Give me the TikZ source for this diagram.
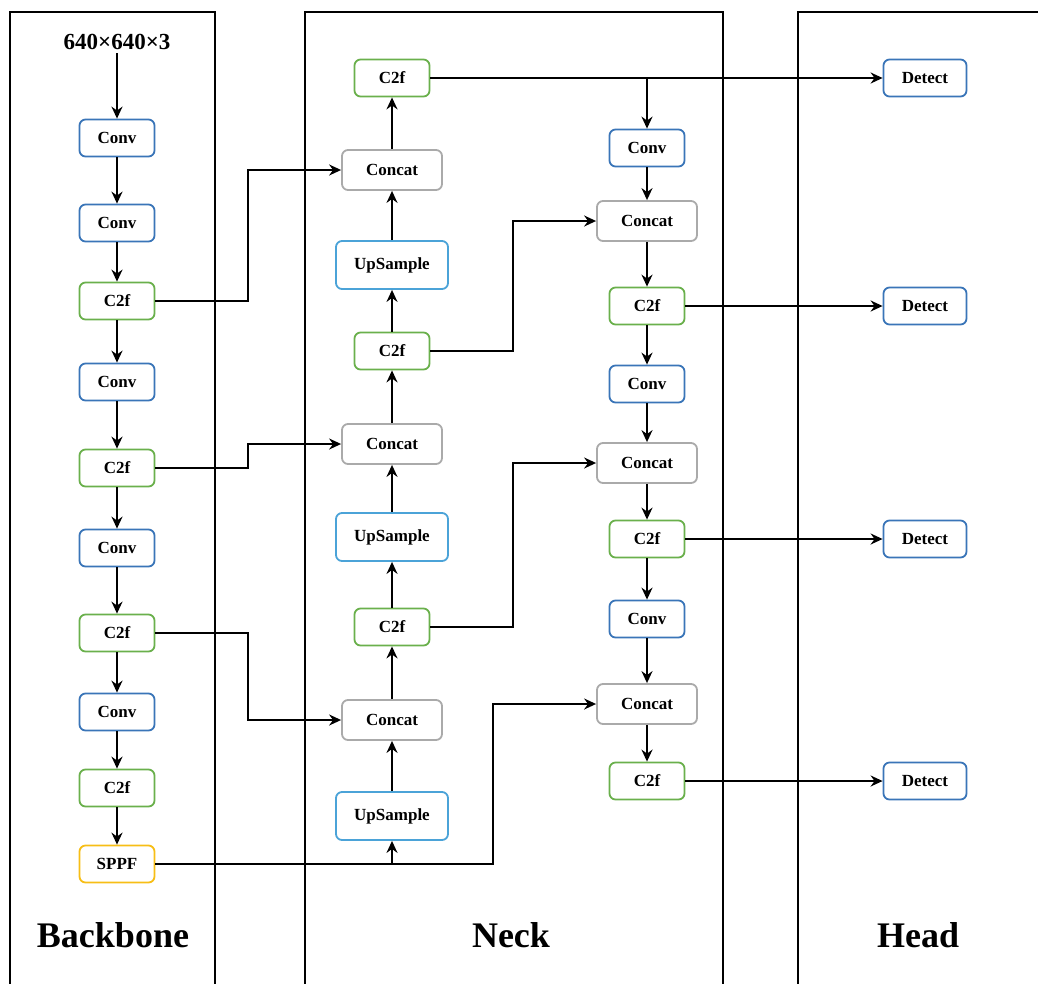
\documentclass[tikz,border=0pt]{standalone}
\usepackage{fontspec}
\setmainfont{Liberation Serif}
\usetikzlibrary{arrows.meta}
\definecolor{convblue}{HTML}{3A75B8}
\definecolor{upblue}{HTML}{4BA3D8}
\definecolor{cgreen}{HTML}{6AB04C}
\definecolor{cgray}{HTML}{AAAAAA}
\definecolor{cyellow}{HTML}{F7BE16}
\begin{document}
\begin{tikzpicture}[x=1pt,y=-1pt,
 blk/.style={draw, rounded corners=6pt, line width=1.8pt, fill=white, minimum height=37pt, inner sep=0pt, font=\fontsize{17}{19}\selectfont\bfseries},
 conv/.style={blk, draw=convblue, minimum width=75pt},
 c2f/.style={blk, draw=cgreen, minimum width=75pt},
 cat/.style={blk, draw=cgray, minimum width=100pt, minimum height=40pt},
 up/.style={blk, draw=upblue, minimum width=112pt, minimum height=48pt},
 sppf/.style={blk, draw=cyellow, minimum width=75pt},
 det/.style={blk, draw=convblue, minimum width=83pt},
 arr/.style={-{Stealth[length=12pt,width=11pt,inset=4pt]}, line width=2.6pt},
 panel/.style={line width=2pt},
 title/.style={font=\fontsize{36}{40}\selectfont\bfseries}
]
\useasboundingbox (0,0) rectangle (1038,983);
% panels
\draw[panel] (10,985) -- (10,12) -- (215,12) -- (215,985);
\draw[panel] (305,985) -- (305,12) -- (723,12) -- (723,985);
\draw[panel] (798,985) -- (798,12) -- (1040,12);
% titles
\node[title] (tb) at (113,935) {Backbone};
\node[title] (tn) at (511,935) {Neck};
\node[title] (th) at (918,935) {Head};
% backbone
\node[font=\fontsize{23}{26}\selectfont\bfseries] (in) at (117,42) {640×640×3};
\node[conv] (b1) at (117,138) {Conv};
\node[conv] (b2) at (117,223) {Conv};
\node[c2f]  (b3) at (117,301) {C2f};
\node[conv] (b4) at (117,382) {Conv};
\node[c2f]  (b5) at (117,468) {C2f};
\node[conv] (b6) at (117,548) {Conv};
\node[c2f]  (b7) at (117,633) {C2f};
\node[conv] (b8) at (117,712) {Conv};
\node[c2f]  (b9) at (117,788) {C2f};
\node[sppf] (sp) at (117,864) {SPPF};
% neck left
\node[c2f] (nt) at (392,78) {C2f};
\node[cat] (nc1) at (392,170) {Concat};
\node[up]  (nu1) at (392,265) {UpSample};
\node[c2f] (nf1) at (392,351) {C2f};
\node[cat] (nc2) at (392,444) {Concat};
\node[up]  (nu2) at (392,537) {UpSample};
\node[c2f] (nf2) at (392,627) {C2f};
\node[cat] (nc3) at (392,720) {Concat};
\node[up]  (nu3) at (392,816) {UpSample};
% neck right
\node[conv] (r1) at (647,148) {Conv};
\node[cat]  (r2) at (647,221) {Concat};
\node[c2f]  (r3) at (647,306) {C2f};
\node[conv] (r4) at (647,384) {Conv};
\node[cat]  (r5) at (647,463) {Concat};
\node[c2f]  (r6) at (647,539) {C2f};
\node[conv] (r7) at (647,619) {Conv};
\node[cat]  (r8) at (647,704) {Concat};
\node[c2f]  (r9) at (647,781) {C2f};
% head
\node[det] (d1) at (925,78) {Detect};
\node[det] (d2) at (925,306) {Detect};
\node[det] (d3) at (925,539) {Detect};
\node[det] (d4) at (925,781) {Detect};
% elbow x positions
\coordinate (xa) at (248,0);
\coordinate (xb) at (493,0);
\coordinate (xc) at (513,0);
% backbone chain
\draw[arr] (in.south) -- (b1.north);
\draw[arr] (b1) -- (b2);
\draw[arr] (b2) -- (b3);
\draw[arr] (b3) -- (b4);
\draw[arr] (b4) -- (b5);
\draw[arr] (b5) -- (b6);
\draw[arr] (b6) -- (b7);
\draw[arr] (b7) -- (b8);
\draw[arr] (b8) -- (b9);
\draw[arr] (b9) -- (sp);
% backbone to neck
\draw[arr] (b3.east) -- (b3.east -| xa) |- (nc1.west);
\draw[arr] (b5.east) -- (b5.east -| xa) |- (nc2.west);
\draw[arr] (b7.east) -- (b7.east -| xa) |- (nc3.west);
\draw[arr] (sp.east) -- (sp.east -| xb) |- (r8.west);
\draw[arr] (sp.east -| nu3) -- (nu3.south);
% neck left chain (upwards)
\draw[arr] (nu3) -- (nc3);
\draw[arr] (nc3) -- (nf2);
\draw[arr] (nf2) -- (nu2);
\draw[arr] (nu2) -- (nc2);
\draw[arr] (nc2) -- (nf1);
\draw[arr] (nf1) -- (nu1);
\draw[arr] (nu1) -- (nc1);
\draw[arr] (nc1) -- (nt);
% neck left to right
\draw[arr] (nf2.east) -- (nf2.east -| xc) |- (r5.west);
\draw[arr] (nf1.east) -- (nf1.east -| xc) |- (r2.west);
\draw[arr] (nt.east) -- (d1.west);
\draw[arr] (nt.east -| r1) -- (r1.north);
% neck right chain
\draw[arr] (r1) -- (r2);
\draw[arr] (r2) -- (r3);
\draw[arr] (r3) -- (r4);
\draw[arr] (r4) -- (r5);
\draw[arr] (r5) -- (r6);
\draw[arr] (r6) -- (r7);
\draw[arr] (r7) -- (r8);
\draw[arr] (r8) -- (r9);
% to head
\draw[arr] (r3) -- (d2);
\draw[arr] (r6) -- (d3);
\draw[arr] (r9) -- (d4);
\end{tikzpicture}
\end{document}
